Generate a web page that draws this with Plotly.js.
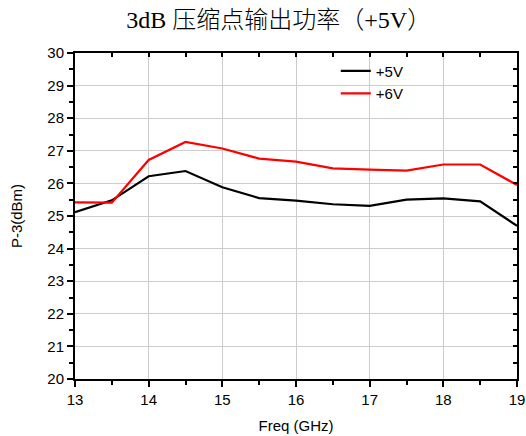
<!DOCTYPE html>
<html>
<head>
<meta charset="utf-8">
<script src="https://cdn.plot.ly/plotly-3.0.1.min.js"></script>
<style>html,body{margin:0;padding:0;background:#fff;}#chart{width:526px;height:436px;}</style>
</head>
<body>
<div id="chart"></div>
<script>
var freq = [13, 13.5, 14, 14.5, 15, 15.5, 16, 16.5, 17, 17.5, 18, 18.5, 19];
var p5V = [25.12, 25.48, 26.22, 26.38, 25.88, 25.55, 25.47, 25.36, 25.31, 25.5, 25.54, 25.45, 24.7];
var p6V = [25.42, 25.41, 26.72, 27.27, 27.07, 26.76, 26.67, 26.46, 26.42, 26.39, 26.58, 26.58, 25.95];
var seriesNames = ['+5V', '+6V'];
var titleText = '3dB 压缩点输出功率（+5V）';
var xTitle = 'Freq (GHz)';
var yTitle = 'P-3(dBm)';

var tickFont = {family: 'Liberation Sans, Arial, sans-serif', size: 15, color: '#000'};

var data = [
  {x: freq, y: p5V, name: seriesNames[0], mode: 'lines', line: {color: '#000000', width: 2.2}, xaxis: 'x', yaxis: 'y'},
  {x: freq, y: p6V, name: seriesNames[1], mode: 'lines', line: {color: '#ff0000', width: 2.2}, xaxis: 'x', yaxis: 'y'},
  {x: [], y: [], xaxis: 'x2', yaxis: 'y2', showlegend: false, hoverinfo: 'skip'}
];

var layout = {
  width: 526, height: 436,
  margin: {l: 74.5, r: 9, t: 53, b: 57},
  paper_bgcolor: '#fff', plot_bgcolor: '#fff',
  title: {text: titleText, font: {family: 'Liberation Serif, Noto Sans CJK SC, serif', size: 24, weight: 300, color: '#000'}, x: 0.53, xref: 'container', y: 0.955, yref: 'container', yanchor: 'middle'},
  showlegend: true,
  legend: {x: 0.59, y: 0.995, xanchor: 'left', yanchor: 'top', bgcolor: 'rgba(0,0,0,0)', font: {family: 'Liberation Sans, Arial, sans-serif', size: 15, color: '#000'}, tracegroupgap: 0, itemwidth: 30},
  xaxis: {
    range: [13, 19], dtick: 1, tick0: 13, showgrid: true, gridcolor: '#cccccc', gridwidth: 1,
    showline: true, linecolor: '#000', linewidth: 2, mirror: true, zeroline: false,
    ticks: 'outside', ticklen: 6, tickwidth: 2, tickcolor: '#000', tickfont: tickFont,
    minor: {dtick: 0.5, ticks: 'outside', ticklen: 4, tickwidth: 2, tickcolor: '#000', showgrid: false},
    title: {text: xTitle, font: {family: 'Liberation Sans, Arial, sans-serif', size: 15, color: '#000'}, standoff: 13},
    fixedrange: true
  },
  yaxis: {
    range: [20, 30], dtick: 1, tick0: 20, showgrid: true, gridcolor: '#cccccc', gridwidth: 1,
    showline: true, linecolor: '#000', linewidth: 2, mirror: true, zeroline: false,
    ticks: 'outside', ticklen: 6, tickwidth: 2, tickcolor: '#000', tickfont: tickFont,
    minor: {dtick: 0.5, ticks: 'outside', ticklen: 4, tickwidth: 2, tickcolor: '#000', showgrid: false},
    title: {text: yTitle, font: {family: 'Liberation Sans, Arial, sans-serif', size: 15, color: '#000'}, standoff: 21},
    fixedrange: true
  },
  xaxis2: {
    overlaying: 'x', side: 'top', anchor: 'y2', range: [13, 19], dtick: 0.5, tick0: 13,
    showgrid: false, showline: false, zeroline: false, showticklabels: false,
    ticks: 'inside', ticklen: 4, tickwidth: 2, tickcolor: '#000', fixedrange: true
  },
  yaxis2: {
    overlaying: 'y', side: 'right', anchor: 'x2', range: [20, 30], dtick: 0.5, tick0: 20,
    showgrid: false, showline: false, zeroline: false, showticklabels: false,
    ticks: 'inside', ticklen: 4, tickwidth: 2, tickcolor: '#000', fixedrange: true
  }
};

Plotly.newPlot('chart', data, layout, {displayModeBar: false, staticPlot: true});
</script>
</body>
</html>
